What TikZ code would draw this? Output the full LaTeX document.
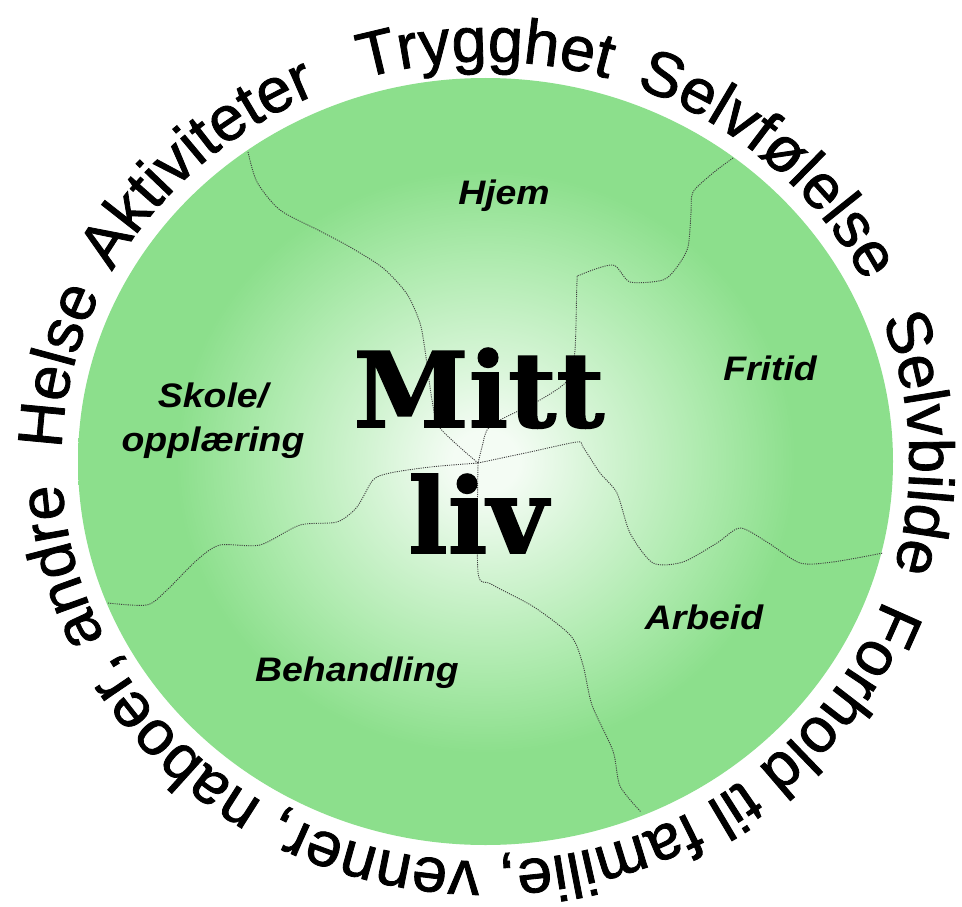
\documentclass[tikz,border=0pt]{standalone}
\usepackage{fontspec}
\setmainfont{Liberation Sans}
\newfontfamily\ringfam{Liberation Sans}[FakeBold=1.3]
\newfontfamily\slabfont{DejaVu Serif Bold}[FakeBold=1.5]
\usetikzlibrary{decorations.text}
\definecolor{greenc}{RGB}{140,223,140}
\definecolor{lightc}{RGB}{244,252,244}
\definecolor{midc}{RGB}{212,244,212}
\definecolor{mid2c}{RGB}{176,235,176}
\pgfdeclareradialshading{livshade}{\pgfpoint{0bp}{0bp}}{color(0bp)=(lightc); color(2bp)=(lightc); color(7bp)=(midc); color(13bp)=(mid2c); color(19bp)=(greenc); color(50bp)=(greenc)}
\newcommand\ringfont{\fontsize{63pt}{63pt}\selectfont\ringfam}
\newcommand\labfont{\fontsize{34pt}{40pt}\selectfont\bfseries\itshape}
\newcommand\bigfont{\fontsize{104pt}{104pt}\selectfont\slabfont}
\tikzset{
  ring/.style={decorate, decoration={text along path, text align=center, text={|\ringfont|#1}}},
  mapline/.style={draw=black!75, line width=0.9pt, dash pattern=on 1.1pt off 1.1pt},
  lab/.style={inner sep=0pt, align=center, font=\labfont},
  big/.style={inner sep=0pt, anchor=base, font=\bigfont}
}
\begin{document}
\begin{tikzpicture}[x=1pt,y=-1pt]
\useasboundingbox (0,0) rectangle (962,907);
\fill[white] (0,0) rectangle (962,907);
\coordinate (C) at (485.5,461.5);
\coordinate (J) at (478,463);
\shade[shading=livshade] (C) ellipse [x radius=407.5, y radius=383.5];

% map lines
\draw[mapline] plot[smooth, tension=0.45] coordinates {(248,152) (257,182) (280,210) (320,231) (350,247) (383,268) (407,294) (420,323) (425,350) (432,400) (440,428) (J)};
\draw[mapline] plot[smooth, tension=0.45] coordinates {(733,158) (713,173) (693,192) (691,213) (688,247) (677,267) (663,280) (630,282) (613,265) (580,275) (577,282) (575,350) (568,380) (540,400) (500,420) (487,430) (482,447) (J)};
\draw[mapline] plot[smooth, tension=0.45] coordinates {(J) (478,572) (491,584) (534,607) (571,636) (583,665) (592,705) (613,751) (620,786) (641,812)};
\draw[mapline] plot[smooth, tension=0.45] coordinates {(108,603) (147,605) (167,590) (197,560) (220,545) (260,545) (300,525) (337,522) (357,507) (373,480) (390,473) (430,467) (J)};
\draw[mapline] plot[smooth, tension=0.45] coordinates {(J) (530,452) (577,442) (583,447) (600,473) (617,493) (630,533) (653,563) (683,562) (717,543) (740,528) (767,542) (800,563) (833,562) (883,553)};

% ring text
\path[ring=Helse] (C) ++(207:424pt and 400pt) arc[start angle=207, end angle=127, x radius=424pt, y radius=400pt];
\path[ring=Aktiviteter] (C) ++(173:424pt and 400pt) arc[start angle=173, end angle=93, x radius=424pt, y radius=400pt];
\path[ring=Trygghet] (C) ++(130:424pt and 400pt) arc[start angle=130, end angle=50, x radius=424pt, y radius=400pt];
\path[ring=Selvfølelse] (C) ++(87.5:424pt and 400pt) arc[start angle=87.5, end angle=7.5, x radius=424pt, y radius=400pt];
\path[ring=Selvbilde] (C) ++(42.5:424pt and 400pt) arc[start angle=42.5, end angle=-37.5, x radius=424pt, y radius=400pt];
\path[ring={Forhold til familie, venner, naboer, andre}] (C) ++(-8.5:424pt and 400pt) arc[start angle=-8.5, end angle=-188.5, x radius=424pt, y radius=400pt];

% region labels
\node[lab] (hjem) at (504,196) {\scalebox{1.1}[1]{Hjem}};
\node[lab] (fritid) at (770,368) {\scalebox{1.1}[1]{Fritid}};
\node[lab] (skole) at (213,421) {\scalebox{1.1}[1]{Skole/}\\[4pt]\scalebox{1.1}[1]{opplæring}};
\node[lab] (arbeid) at (704,617) {\scalebox{1.1}[1]{Arbeid}};
\node[lab] (behandling) at (357,673) {\scalebox{1.1}[1]{Behandling}};

% title
\node[big] (mitt) at (479,427) {Mitt};
\node[big] (liv) at (478,553) {liv};
\end{tikzpicture}
\end{document}
